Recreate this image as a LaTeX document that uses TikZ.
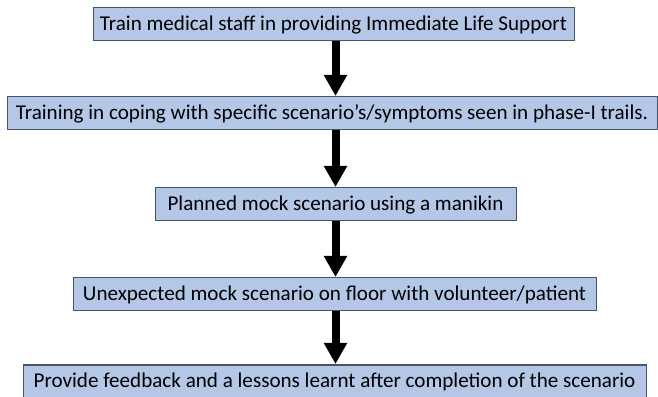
\documentclass[tikz,border=0pt]{standalone}
\usepackage{fontspec}
\setmainfont{Carlito}
\usetikzlibrary{arrows.meta}
\definecolor{boxfill}{HTML}{B4C7E7}
\definecolor{boxline}{HTML}{46536A}
\begin{document}
\begin{tikzpicture}[x=1pt,y=1pt,
  stepbox/.style={draw=boxline, fill=boxfill, line width=1pt, inner sep=0pt,
    minimum height=33pt, font=\fontsize{21.1}{25}\selectfont, anchor=center},
  flow/.style={line width=8pt, -{Triangle[width=22pt,length=21pt]}, black, shorten >=0.5pt}]
\useasboundingbox (0,0) rectangle (658,396);
\node[stepbox, minimum width=481pt] (b1) at (333.5,371.5) {Train medical staff in providing Immediate Life Support};
\node[stepbox, minimum width=650pt] (b2) at (332,282.5) {Training in coping with specific scenario’s/symptoms seen in phase-I trails.};
\node[stepbox, minimum width=361pt] (b3) at (335.5,191.5) {Planned mock scenario using a manikin};
\node[stepbox, minimum width=523pt] (b4) at (334.5,101.5) {Unexpected mock scenario on floor with volunteer/patient};
\node[stepbox, minimum width=623pt] (b5) at (334.5,14.5) {Provide feedback and a lessons learnt after completion of the scenario};
\draw[flow] (b1.south -| b3.north) -- (b2.north -| b3.north);
\draw[flow] (b2.south -| b3.north) -- (b3.north);
\draw[flow] (b3.south) -- (b4.north -| b3.south);
\draw[flow] (b4.south -| b3.south) -- (b5.north -| b3.south);
\end{tikzpicture}
\end{document}
